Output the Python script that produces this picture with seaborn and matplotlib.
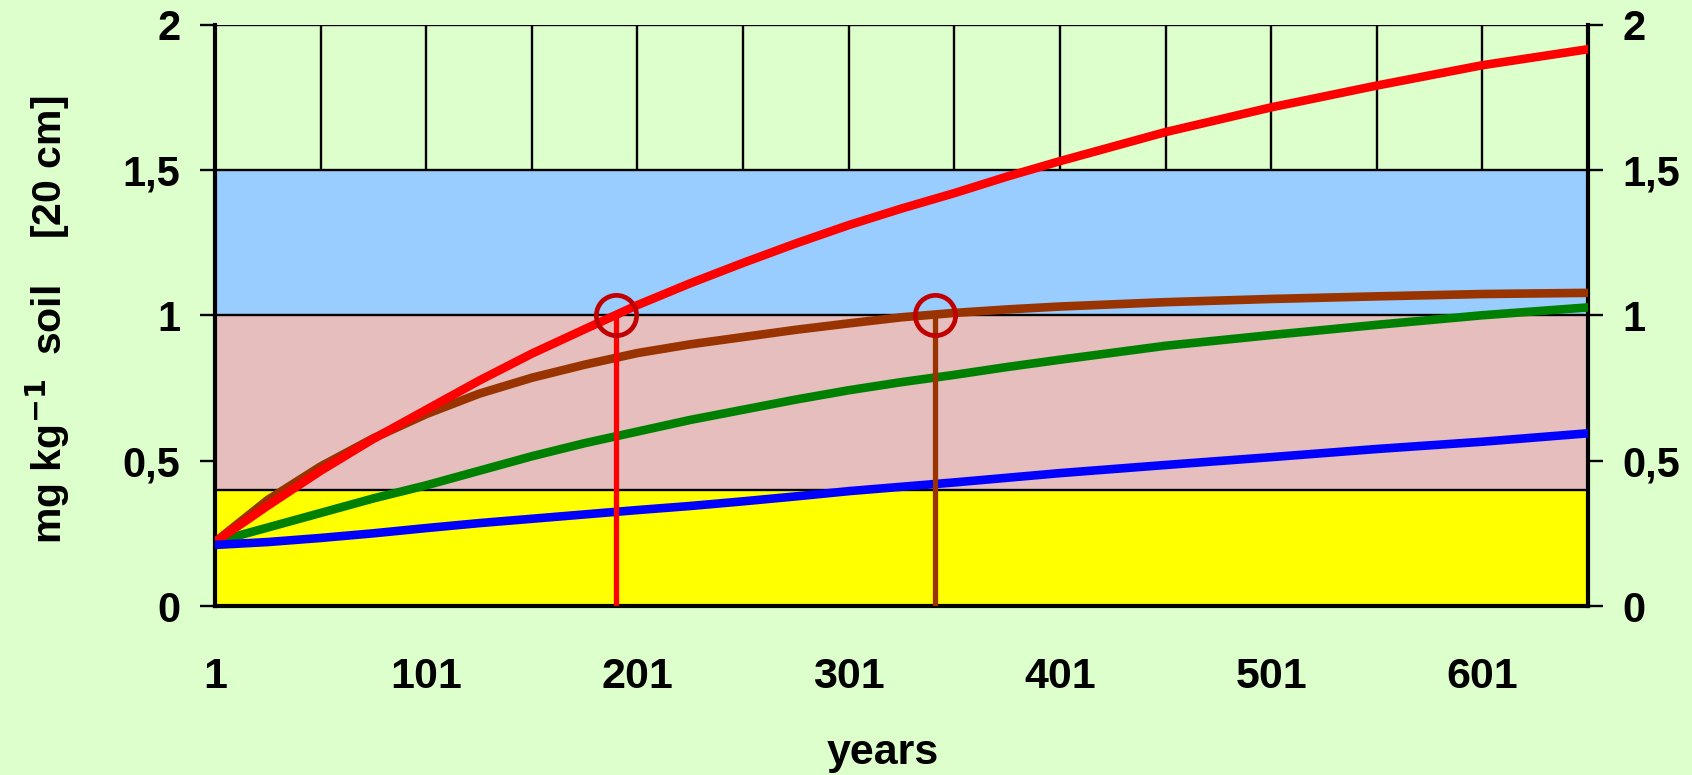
import numpy as np
import pandas as pd
import matplotlib
matplotlib.use("Agg")
import matplotlib.pyplot as plt
import seaborn as sns
from matplotlib.ticker import FixedLocator

# ---- data ----
years = [1, 26, 51, 76, 101, 126, 151, 176, 201, 226, 251, 276, 301, 326, 351, 376, 401,
         451, 501, 551, 601, 651]
red_vals = [0.22, 0.345, 0.465, 0.575, 0.675, 0.775, 0.868, 0.952, 1.035, 1.11, 1.18, 1.247,
            1.31, 1.367, 1.42, 1.477, 1.53, 1.63, 1.715, 1.79, 1.86, 1.915]
brown_vals = [0.22, 0.365, 0.48, 0.577, 0.66, 0.73, 0.785, 0.83, 0.87, 0.9, 0.925, 0.95,
              0.972, 0.993, 1.008, 1.02, 1.03, 1.045, 1.056, 1.065, 1.073, 1.077]
green_vals = [0.22, 0.27, 0.32, 0.37, 0.415, 0.465, 0.515, 0.56, 0.60, 0.64, 0.675, 0.71,
              0.742, 0.77, 0.795, 0.822, 0.847, 0.895, 0.932, 0.967, 1.0, 1.027]
blue_vals = [0.21, 0.22, 0.234, 0.25, 0.268, 0.285, 0.30, 0.315, 0.33, 0.344, 0.36, 0.377,
             0.395, 0.41, 0.425, 0.441, 0.457, 0.485, 0.512, 0.54, 0.565, 0.594]

series_order = ["brown", "green", "red", "blue"]
series_colors = {"red": "#FF0000", "brown": "#993300", "green": "#008000", "blue": "#0000FF"}

band_edges = [0.0, 0.4, 1.0, 1.5]
band_colors = ["#FFFF00", "#E6BEBE", "#99CCFF"]

cross_years = [191, 342]
cross_values = [1.0, 1.0]
cross_colors = ["#FF0000", "#993300"]

x_ticks = list(range(1, 652, 50))
x_tick_labels = [str(t) if (t - 1) % 100 == 0 else "" for t in x_ticks]
y_ticks = [0, 0.5, 1, 1.5, 2]
y_tick_labels = ["0", "0,5", "1", "1,5", "2"]

bg = "#DDFFCC"

df = pd.DataFrame({
    "year": years * 4,
    "value": red_vals + brown_vals + green_vals + blue_vals,
    "series": ["red"] * len(years) + ["brown"] * len(years) + ["green"] * len(years) + ["blue"] * len(years),
})

sns.set_theme(style="white")
plt.rcParams['font.family'] = ['Liberation Sans', 'DejaVu Sans']
plt.rcParams['font.weight'] = 'bold'
for k in ["text.color", "axes.labelcolor", "xtick.color", "ytick.color"]:
    plt.rcParams[k] = "black"

fig = plt.figure(figsize=(16.92, 7.75), dpi=100, facecolor=bg)
ax = fig.add_axes([215 / 1692, 1 - 606 / 775, (1588 - 215) / 1692, (606 - 24.5) / 775])
ax.set_facecolor(bg)

for lo, hi, c in zip(band_edges[:-1], band_edges[1:], band_colors):
    ax.axhspan(lo, hi, color=c, lw=0, zorder=1)
for e in band_edges[1:] + [2.0]:
    ax.axhline(e, color="black", lw=1.7, zorder=1.5)

ax.set_xlim(1, 651)
ax.set_ylim(0, 2)
ax.xaxis.set_major_locator(FixedLocator(x_ticks))
ax.set_xticklabels(x_tick_labels)
ax.yaxis.set_major_locator(FixedLocator(y_ticks))
ax.set_yticklabels(y_tick_labels)
ax.set_axisbelow(True)
ax.grid(axis="x", color="black", lw=1.7)
ax.grid(axis="y", visible=False)

sns.lineplot(data=df, x="year", y="value", hue="series", hue_order=series_order,
             palette=series_colors, lw=6.2, legend=False, ax=ax, zorder=3)

ax.vlines(cross_years, 0, cross_values, colors=cross_colors, lw=3.8, zorder=4)
ax.plot(cross_years, cross_values, "o", mfc="none", mec="#C00000", ms=29, mew=3.4, zorder=5)

for s in ["left", "right", "bottom"]:
    ax.spines[s].set_color("black")
    ax.spines[s].set_linewidth(3)
ax.spines["top"].set_visible(False)

ax.tick_params(axis="y", which="both", left=True, right=True, labelleft=True, labelright=True,
               length=11, width=1.7, direction="out", labelsize=30, pad=14, colors="black")
ax.tick_params(axis="x", length=9.5, width=1.7, direction="out", labelsize=31, pad=27, colors="black")
for lab in ax.get_xticklabels() + ax.get_yticklabels():
    lab.set_fontweight("bold")
for t in ax.yaxis.get_major_ticks():
    t.label2.set_fontweight("bold")

ax.set_xlabel("")
ax.set_ylabel("")
fig.text(48 / 1692, 1 - 320 / 775, "mg kg$^{\\mathbf{-1}}$  soil    [20 cm]", rotation=90,
         ha="center", va="center", fontsize=29.5, fontweight="bold")
fig.text(883 / 1692, 11 / 775, "years", ha="center", va="baseline", fontsize=31, fontweight="bold")

fig.savefig("out.png", dpi=100, facecolor=bg)
